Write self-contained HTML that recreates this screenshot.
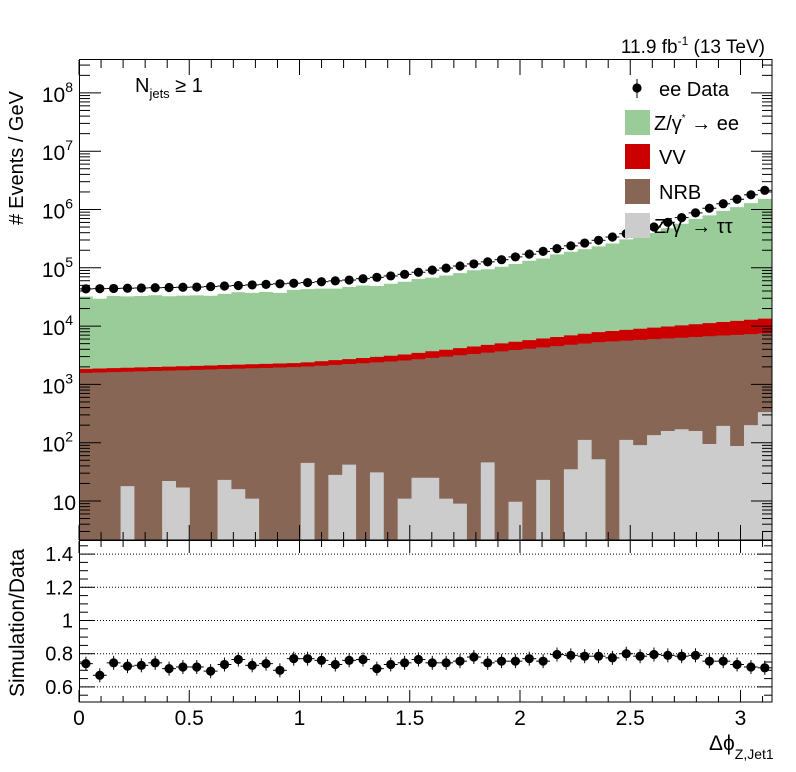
<!DOCTYPE html>
<html><head><meta charset="utf-8"><style>
body{margin:0;background:#fff;}
svg{display:block;font-family:"Liberation Sans",sans-serif;}
</style></head><body>
<svg id="s" width="796" height="772" xmlns="http://www.w3.org/2000/svg"></svg>
<script>
const s=document.getElementById('s');let h='';
const X0=79,XS=220.5,bw=Math.PI/50*XS;
const ly=l=>501-58.3*(l-1);
const lv=y=>1+(501-y)/58.3;
function interp(pts,x){for(let i=0;i<pts.length-1;i++){if(x<=pts[i+1][0]||i==pts.length-2){const [a,b]=pts[i],[c,d]=pts[i+1];return b+(d-b)*(x-a)/(c-a);}}}
const dataPts=[[80,289],[200,287],[300,283],[350,280],[400,275],[500,260],[600,240],[654,227],[707,209],[772,188]];
const nrbPts=[[80,373],[300,367],[400,361],[600,342],[772,333]];
const vvPts=[[80,369],[300,363],[400,355],[600,332],[772,318]];
const ratio=[0.74,0.67,0.745,0.725,0.73,0.745,0.71,0.72,0.72,0.695,0.735,0.765,0.73,0.74,0.70,0.77,0.77,0.76,0.735,0.76,0.765,0.71,0.735,0.745,0.765,0.745,0.745,0.755,0.78,0.745,0.755,0.755,0.77,0.755,0.795,0.79,0.785,0.785,0.775,0.80,0.785,0.795,0.79,0.785,0.79,0.755,0.755,0.735,0.72,0.715];
const grey={3:18,6:22,7:17,10:23,11:16,12:11,16:45,18:28,19:42,21:31,23:11,24:25,25:25,26:11,27:9,29:46,31:9.7,33:23,35:35,36:112,37:52,39:112,40:91,41:135,42:159,43:170,44:159,45:95,46:194,47:88,48:200,49:335};
const B=540;
function step(ys,col){let d=`M${X0} ${B}`;for(let i=0;i<50;i++){const x=X0+i*bw;d+=` L${x.toFixed(2)} ${ys[i].toFixed(2)} L${(x+bw).toFixed(2)} ${ys[i].toFixed(2)}`;}d+=` L${X0+50*bw} ${B} Z`;return `<path d="${d}" fill="${col}"/>`;}
const T=[],V=[],N=[],G=[];
for(let i=0;i<50;i++){
 const xc=X0+i*bw+bw/2;
 const dl=lv(interp(dataPts,xc));
 T.push(ly(dl+Math.log10(ratio[i])));
 N.push(interp(nrbPts,xc));V.push(interp(vvPts,xc));
 G.push(grey[i]?ly(Math.log10(grey[i])):B);
}
h+=step(T,"#99cc99")+step(V,"#cc0000")+step(N,"#886655")+step(G,"#cccccc");
for(let i=0;i<50;i++){
 const x=X0+i*bw,xc=x+bw/2,y=ly(lv(interp(dataPts,xc)));
 h+=`<line x1="${x}" x2="${x+bw}" y1="${y}" y2="${y}" stroke="#000"/><circle cx="${xc}" cy="${y}" r="4.6" fill="#000"/>`;
}
const ry=v=>620.5-(v-1)*166;
[0.6,0.8,1,1.2,1.4].forEach(v=>{h+=`<line x1="79" x2="772" y1="${ry(v)}" y2="${ry(v)}" stroke="#000" stroke-dasharray="1,2"/>`;});
for(let i=0;i<50;i++){
 const x=X0+i*bw,xc=x+bw/2,y=ry(ratio[i]);
 h+=`<line x1="${x}" x2="${x+bw}" y1="${y}" y2="${y}" stroke="#000"/><line x1="${xc}" x2="${xc}" y1="${y-7}" y2="${y+7}" stroke="#000"/><circle cx="${xc}" cy="${y}" r="4.6" fill="#000"/>`;
}
h+=`<rect x="79.5" y="59.5" width="692.5" height="480.5" fill="none" stroke="#000"/>`;
h+=`<rect x="79.5" y="540.5" width="692.5" height="161.5" fill="none" stroke="#000"/>`;
for(let k=0;k<=31;k++){const v=k/10,x=X0+v*XS,maj=k%5==0;const L=maj?15:8;
 h+=`<line x1="${x}" x2="${x}" y1="540" y2="${540-L}" stroke="#000"/><line x1="${x}" x2="${x}" y1="60" y2="${60+L}" stroke="#000"/>`;
 h+=`<line x1="${x}" x2="${x}" y1="702" y2="${702-(maj?12:6)}" stroke="#000"/><line x1="${x}" x2="${x}" y1="541" y2="${541+(maj?12:6)}" stroke="#000"/>`;
 if(maj)h+=`<text x="${x}" y="725" font-size="21" text-anchor="middle">${v}</text>`;}
for(let d=0;d<=8;d++){for(let m=1;m<10;m++){const l=d+Math.log10(m);const y=ly(l);if(y<60||y>540)continue;const L=m==1?21:10;
 h+=`<line x1="80" x2="${80+L}" y1="${y}" y2="${y}" stroke="#000"/><line x1="772" x2="${772-L}" y1="${y}" y2="${y}" stroke="#000"/>`;}}
for(let d=2;d<=8;d++){h+=`<text x="73" y="${ly(d)+9}" font-size="21" text-anchor="end">10<tspan font-size="14" dy="-10">${d}</tspan></text>`;}
h+=`<text x="76" y="${ly(1)+9}" font-size="21" text-anchor="end">10</text>`;
for(let k=10;k<=30;k++){const v=k*0.05;const y=ry(v);if(y<541||y>702)continue;const maj=k%4==0;const L=maj?15:8;
 h+=`<line x1="80" x2="${80+L}" y1="${y}" y2="${y}" stroke="#000"/><line x1="772" x2="${772-L}" y1="${y}" y2="${y}" stroke="#000"/>`;
 if(maj)h+=`<text x="73" y="${y+7}" font-size="20" text-anchor="end">${+v.toFixed(1)}</text>`;}
h+=`<text transform="translate(23,225) rotate(-90)" font-size="20">#<tspan dx="5">Events / GeV</tspan></text>`;
h+=`<text transform="translate(24,697) rotate(-90)" font-size="21">Simulation/Data</text>`;
h+=`<text x="709" y="750" font-size="21">Δϕ<tspan font-size="14" dy="9">Z,Jet1</tspan></text>`;
h+=`<text x="765" y="53" font-size="19" text-anchor="end">11.9 fb<tspan font-size="12" dy="-8">-1</tspan><tspan dy="8"> (13 TeV)</tspan></text>`;
h+=`<text x="135" y="92" font-size="20">N<tspan font-size="13" dy="6">jets</tspan><tspan dy="-6"> ≥ 1</tspan></text>`;
h+=`<line x1="637" x2="637" y1="79" y2="98" stroke="#000"/><circle cx="637" cy="88" r="4.6"/><text x="659" y="96" font-size="20">ee Data</text>`;
const leg=[["#99cc99",110,'Z/γ<tspan font-size="10" dy="-9">*</tspan><tspan dy="9"> → ee</tspan>'],["#cc0000",144,'VV'],["#886655",179,'NRB'],["#cccccc",213,'Z/γ<tspan font-size="10" dy="-9">*</tspan><tspan dy="9"> → ττ</tspan>']];
leg.forEach(([c,y,t])=>{h+=`<rect x="625" y="${y}" width="25" height="25" fill="${c}"/><text x="${t=='VV'||t=='NRB'?659:654}" y="${y+20}" font-size="20">${t}</text>`;});
s.innerHTML=h;
</script>
</body></html>
